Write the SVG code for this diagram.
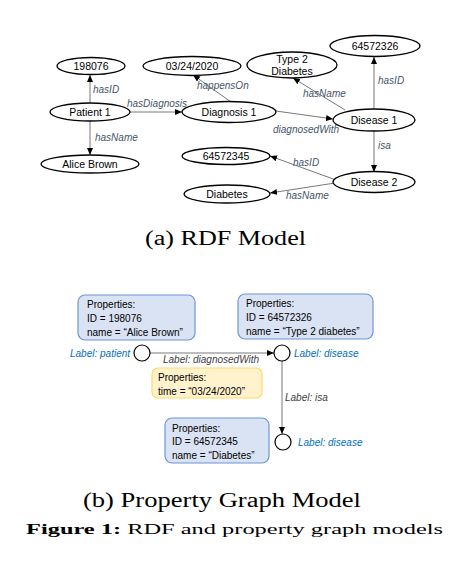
<svg xmlns="http://www.w3.org/2000/svg" width="462" height="571" viewBox="0 0 462 571">
<style>
.n{fill:#fff;stroke:#000;stroke-width:1.3}
.t{font-family:"Liberation Sans",Arial,sans-serif;font-size:10.5px;fill:#000;text-anchor:middle}
.e{stroke:#555;stroke-width:0.8;fill:none}
.el{font-family:"Liberation Sans",Arial,sans-serif;font-size:10px;font-style:italic;fill:#44546A}
.bb{fill:#DAE3F3;stroke:#6D95D6;stroke-width:1.2}
.yb{fill:#FFF2CC;stroke:#FFD966;stroke-width:1.2}
.bt{font-family:"Liberation Sans",Arial,sans-serif;font-size:10px;fill:#000}
.c{fill:#fff;stroke:#000;stroke-width:1.2}
.lb{font-family:"Liberation Sans",Arial,sans-serif;font-size:10px;font-style:italic;fill:#0070C0}
.lg{font-family:"Liberation Sans",Arial,sans-serif;font-size:10px;font-style:italic;fill:#404040}
.cap{font-family:"Liberation Serif","Times New Roman",serif;fill:#000}
</style>
<defs>
<marker id="a" markerWidth="8" markerHeight="8" refX="7" refY="4" orient="auto" markerUnits="userSpaceOnUse">
<path d="M0,1 L7,4 L0,7 Z" fill="#000"/>
</marker>
</defs>
<rect width="462" height="571" fill="#fff"/>

<g id="connectors">
<line class="e" x1="90" y1="103" x2="90" y2="75" marker-end="url(#a)"/>
<line class="e" x1="90" y1="121" x2="90" y2="155" marker-end="url(#a)"/>
<line class="e" x1="130" y1="112" x2="182" y2="112" marker-end="url(#a)"/>
<line class="e" x1="231" y1="102" x2="193" y2="75" marker-end="url(#a)"/>
<line class="e" x1="276" y1="111" x2="333" y2="119" marker-end="url(#a)"/>
<line class="e" x1="345" y1="110" x2="293" y2="78" marker-end="url(#a)"/>
<line class="e" x1="374" y1="109" x2="374" y2="57" marker-end="url(#a)"/>
<line class="e" x1="374" y1="131" x2="374" y2="172" marker-end="url(#a)"/>
<line class="e" x1="336" y1="180" x2="270" y2="156" marker-end="url(#a)"/>
<line class="e" x1="335" y1="183" x2="270" y2="193" marker-end="url(#a)"/>
<line class="e" x1="150" y1="353" x2="274" y2="353" marker-end="url(#a)"/>
<line class="e" x1="282" y1="361" x2="282" y2="434" marker-end="url(#a)"/>
</g>

<g id="edge-labels">
<text class="el" x="93" y="93">hasID</text>
<text class="el" x="95" y="141">hasName</text>
<text class="el" x="127" y="107">hasDiagnosis</text>
<text class="el" x="197" y="89">happensOn</text>
<text class="el" x="273" y="133">diagnosedWith</text>
<text class="el" x="303" y="97">hasName</text>
<text class="el" x="378" y="84">hasID</text>
<text class="el" x="378" y="149">isa</text>
<text class="el" x="293" y="166">hasID</text>
<text class="el" x="286" y="199">hasName</text>
</g>

<g id="n198076"><ellipse class="n" cx="91" cy="66" rx="34" ry="8.5"/><text class="t" x="91" y="70">198076</text></g>
<g id="patient1"><ellipse class="n" cx="90" cy="112" rx="40" ry="9"/><text class="t" x="90" y="116">Patient 1</text></g>
<g id="alicebrown"><ellipse class="n" cx="90" cy="164" rx="49" ry="9"/><text class="t" x="90" y="168">Alice Brown</text></g>
<g id="date"><ellipse class="n" cx="192" cy="66" rx="49" ry="9.5"/><text class="t" x="192" y="70">03/24/2020</text></g>
<g id="diagnosis1"><ellipse class="n" cx="229" cy="112" rx="47" ry="10.5"/><text class="t" x="229" y="116">Diagnosis 1</text></g>
<g id="n64572326"><ellipse class="n" cx="375" cy="46" rx="45" ry="10.5"/><text class="t" x="375" y="50">64572326</text></g>
<g id="type2"><ellipse class="n" cx="292" cy="65" rx="45" ry="13"/><text class="t" x="292" y="63">Type 2</text><text class="t" x="292" y="75">Diabetes</text></g>
<g id="disease1"><ellipse class="n" cx="374" cy="120" rx="41" ry="11"/><text class="t" x="374" y="124">Disease 1</text></g>
<g id="n64572345"><ellipse class="n" cx="226" cy="156" rx="44" ry="8.5"/><text class="t" x="226" y="160">64572345</text></g>
<g id="diabetes"><ellipse class="n" cx="227" cy="194" rx="43" ry="9"/><text class="t" x="227" y="198">Diabetes</text></g>
<g id="disease2"><ellipse class="n" cx="374" cy="182" rx="41" ry="10.5"/><text class="t" x="374" y="186">Disease 2</text></g>

<text class="cap" x="225.5" y="245" font-size="20" text-anchor="middle" textLength="161" lengthAdjust="spacingAndGlyphs">(a) RDF Model</text>

<g id="pg-patient-props"><rect class="bb" x="78" y="295" width="117" height="45" rx="7"/>
<text class="bt" x="87" y="308">Properties:</text><text class="bt" x="87" y="322">ID =  198076</text><text class="bt" x="87" y="336">name = “Alice Brown”</text></g>
<g id="pg-disease1-props"><rect class="bb" x="238" y="294" width="135" height="45" rx="7"/>
<text class="bt" x="246" y="307">Properties:</text><text class="bt" x="246" y="321">ID = 64572326</text><text class="bt" x="246" y="335">name = “Type 2 diabetes”</text></g>
<g id="pg-edge-props"><rect class="yb" x="152" y="368" width="110" height="30" rx="6"/>
<text class="bt" x="158" y="381">Properties:</text><text class="bt" x="158" y="395">time = “03/24/2020”</text></g>
<g id="pg-disease2-props"><rect class="bb" x="165" y="418" width="104" height="45" rx="7"/>
<text class="bt" x="172" y="432">Properties:</text><text class="bt" x="172" y="445">ID = 64572345</text><text class="bt" x="172" y="459">name = “Diabetes”</text></g>

<g id="pg-patient"><circle class="c" cx="142" cy="353" r="8"/><text class="lb" x="70" y="357">Label: patient</text></g>
<g id="pg-disease1"><circle class="c" cx="282" cy="353" r="8"/><text class="lb" x="294" y="357">Label: disease</text></g>
<g id="pg-disease2"><circle class="c" cx="283" cy="442" r="8"/><text class="lb" x="298" y="446">Label: disease</text></g>
<g id="pg-edge-labels"><text class="lg" x="163" y="363">Label: diagnosedWith</text><text class="lg" x="285" y="401">Label: isa</text></g>

<text class="cap" x="222" y="507" font-size="20" text-anchor="middle" textLength="278" lengthAdjust="spacingAndGlyphs">(b) Property Graph Model</text>
<text class="cap" x="26" y="534" font-size="15.5" textLength="417" lengthAdjust="spacingAndGlyphs"><tspan font-weight="bold">Figure 1:</tspan>  RDF and property graph models</text>
</svg>
